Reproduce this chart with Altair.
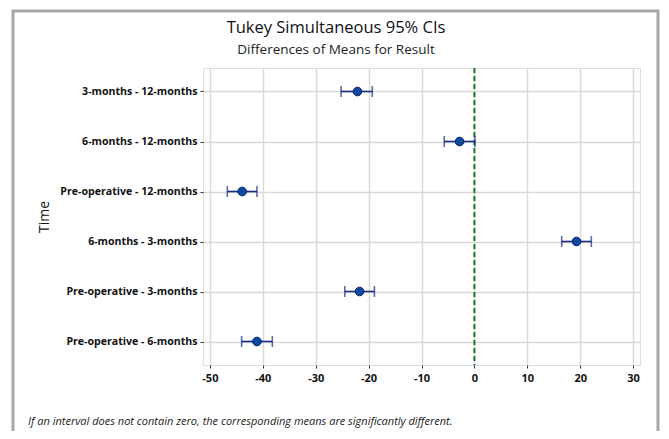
import altair as alt
import pandas as pd

comparisons = [
    "3-months - 12-months",
    "6-months - 12-months",
    "Pre-operative - 12-months",
    "6-months - 3-months",
    "Pre-operative - 3-months",
    "Pre-operative - 6-months",
]
diff = [-22.1, -2.8, -43.9, 19.3, -21.7, -41.1]
lower = [-25.2, -5.7, -46.7, 16.5, -24.5, -44.0]
upper = [-19.3, 0.1, -41.1, 22.1, -18.9, -38.2]
x_ticks = [-50, -40, -30, -20, -10, 0, 10, 20, 30]
title_text = "Tukey Simultaneous 95% CIs"
subtitle_text = "Differences of Means for Result"
note_text = "If an interval does not contain zero, the corresponding means are significantly different."

df = pd.DataFrame({"Time": comparisons, "diff": diff, "lower": lower, "upper": upper})

FONT = "Open Sans"
NAVY = "#1a2a85"

x_scale = alt.Scale(domain=[-51.3, 31.3], nice=False, zero=False)
y_scale = alt.Scale(type="point", padding=0.47, domain=comparisons)

base = alt.Chart(df)

y_enc = alt.Y("Time:N", scale=y_scale, sort=comparisons,
              axis=alt.Axis(title="Time", titleFontSize=14, titleFontWeight="normal",
                            titleFont=FONT, titleColor="#111", titlePadding=8,
                            labelFont=FONT, labelFontSize=10.6, labelFontWeight="bold",
                            labelColor="#111", labelPadding=3,
                            tickSize=3, tickColor="#333", domain=False,
                            grid=True, gridColor="#d9d9d9", gridWidth=1.5))

rules = base.mark_rule(color=NAVY, strokeWidth=1.6).encode(
    x=alt.X("lower:Q", scale=x_scale,
            axis=alt.Axis(title=None, values=x_ticks, labelFont=FONT, labelFontSize=11,
                          labelFontWeight="bold", labelColor="#111", labelPadding=4,
                          labelExpr="replace(datum.label, '\u2212', '-')",
                          tickSize=3, tickColor="#333", domain=False,
                          grid=True, gridColor="#d9d9d9", gridWidth=1.5)),
    x2="upper:Q",
    y=y_enc,
)
cap_lo = base.mark_tick(color=NAVY, orient="vertical", size=11, thickness=1.6).encode(
    x=alt.X("lower:Q", scale=x_scale), y=alt.Y("Time:N", scale=y_scale, sort=comparisons))
cap_hi = base.mark_tick(color=NAVY, orient="vertical", size=11, thickness=1.6).encode(
    x=alt.X("upper:Q", scale=x_scale), y=alt.Y("Time:N", scale=y_scale, sort=comparisons))
points = base.mark_point(filled=True, shape="circle", size=75, color="#0b4a9e",
                         stroke="#0a1f6e", strokeWidth=1, opacity=1).encode(
    x=alt.X("diff:Q", scale=x_scale), y=alt.Y("Time:N", scale=y_scale, sort=comparisons))

zero_df = pd.DataFrame({"z": [0]})
zero = alt.Chart(zero_df).mark_rule(color="#1f7a1f", strokeWidth=2, strokeDash=[5, 3]).encode(
    x=alt.X("z:Q", scale=x_scale))

text_df = pd.DataFrame({"t": [title_text], "s": [subtitle_text], "n": [note_text]})
title = alt.Chart(text_df).mark_text(align="center", baseline="alphabetic", font=FONT,
                                      fontSize=16.5, color="#111", clip=False).encode(
    text="t:N", x=alt.value(133), y=alt.value(-35))
subtitle = alt.Chart(text_df).mark_text(align="center", baseline="alphabetic", font=FONT,
                                         fontSize=13.5, color="#222", clip=False).encode(
    text="s:N", x=alt.value(133), y=alt.value(-14))
note = alt.Chart(text_df).mark_text(align="left", baseline="middle", font=FONT, fontSize=11,
                                     fontStyle="italic", color="#222", clip=False).encode(
    text="n:N", x=alt.value(-175), y=alt.value(354))

frame = alt.Chart(text_df).mark_rect(fill=None, stroke="#a6a6a6", strokeWidth=3, clip=False).encode(
    x=alt.value(-190), x2=alt.value(455), y=alt.value(-57), y2=alt.value(400))

chart = alt.layer(frame, zero, rules, cap_lo, cap_hi, points, title, subtitle, note).properties(
    width=437, height=297,
    autosize=alt.AutoSizeParams(type="none"),
    padding={"left": 195, "top": 60, "right": 21, "bottom": 66},
).configure_view(stroke="#333", strokeWidth=1.2).configure(background="white")

chart.save("out.html", embed_options={"renderer": "svg", "actions": False})
